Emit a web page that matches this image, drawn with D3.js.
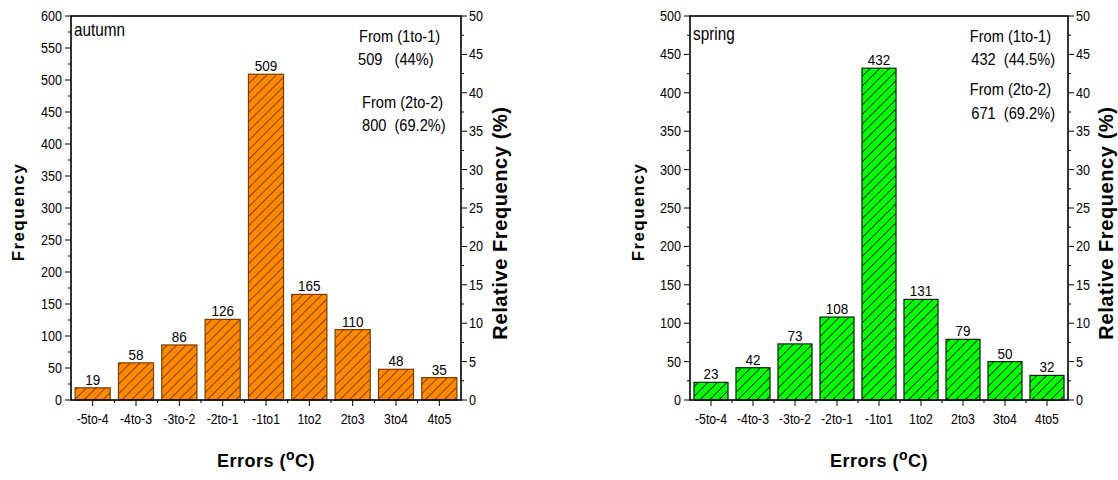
<!DOCTYPE html>
<meta charset="utf-8">
<style>
body {
  background: #fff;
  margin: 0;
  padding: 0;
}
text {
  fill: #000;
  font-family: "Liberation Sans", Arial, sans-serif;
  white-space: pre;
}
.tick-label {
  font-size: 14px;
}
.value-label {
  font-size: 15px;
}
.note {
  font-size: 17px;
}
.season {
  font-size: 18px;
}
.axis-title {
  font-size: 17px;
  font-weight: bold;
  letter-spacing: 1.4px;
}
.rel-title {
  font-size: 20px;
  font-weight: bold;
  letter-spacing: 0.6px;
}
.x-title {
  font-size: 18px;
  font-weight: bold;
  letter-spacing: 0.5px;
}
.frame {
  fill: none;
  stroke: #000;
  stroke-width: 1.6px;
}
.tick {
  stroke: #000;
  stroke-width: 1px;
}
</style>
<body>
<script src="https://cdn.jsdelivr.net/npm/d3@7"></script>
<script>
var categories = ["-5to-4", "-4to-3", "-3to-2", "-2to-1", "-1to1", "1to2", "2to3", "3to4", "4to5"];

var autumnValues = [19, 58, 86, 126, 509, 165, 110, 48, 35];
var springValues = [23, 42, 73, 108, 432, 131, 79, 50, 32];

var autumnFreqTicks = [0, 50, 100, 150, 200, 250, 300, 350, 400, 450, 500, 550, 600];
var springFreqTicks = [0, 50, 100, 150, 200, 250, 300, 350, 400, 450, 500];
var relTicks = [0, 5, 10, 15, 20, 25, 30, 35, 40, 45, 50];

var autumnNotes = ["From (1to-1)", "509   (44%)", "From (2to-2)", "800  (69.2%)"];
var springNotes = ["From (1to-1)", "432  (44.5%)", "From (2to-2)", "671  (69.2%)"];

var width = 1118,
    height = 480;

var svg = d3.select("body").append("svg")
    .attr("width", width)
    .attr("height", height);

var defs = svg.append("defs");

function addHatch(id, fill, lineWidth) {
  var p = defs.append("pattern")
      .attr("id", id)
      .attr("patternUnits", "userSpaceOnUse")
      .attr("width", 6.7)
      .attr("height", 6.7)
      .attr("patternTransform", "rotate(45)");
  p.append("rect")
      .attr("width", 6.7)
      .attr("height", 6.7)
      .attr("fill", fill);
  p.append("line")
      .attr("x1", 0).attr("y1", 0)
      .attr("x2", 0).attr("y2", 6.7)
      .attr("stroke", "#000")
      .attr("stroke-width", lineWidth);
}
addHatch("hatch-orange", "#ff8800", 1);
addHatch("hatch-green", "#00ff00", 1.6);

// the original uses a narrow face, squeeze Liberation Sans instead
function narrow(g, cls, x, y, txt, anchor, sx) {
  return g.append("text")
      .attr("class", cls)
      .attr("text-anchor", anchor || "start")
      .attr("transform", "translate(" + x + "," + y + ") scale(" + (sx || 0.88) + ",1)")
      .text(txt);
}

function drawPanel(opt) {
  var g = svg.append("g");

  var x = d3.scaleBand()
      .domain(categories)
      .range([opt.left, opt.right])
      .paddingInner(0.19)
      .paddingOuter(0.095);

  var y = d3.scaleLinear()
      .domain([0, opt.yMax])
      .range([opt.bottom, opt.top]);

  var y2 = d3.scaleLinear()
      .domain([0, 50])
      .range([opt.bottom, opt.top]);

  // bars
  g.selectAll(".bar")
      .data(opt.values)
      .enter().append("rect")
      .attr("class", "bar")
      .attr("x", function(d, i) { return x(categories[i]); })
      .attr("y", function(d) { return y(d); })
      .attr("width", x.bandwidth())
      .attr("height", function(d) { return y(0) - y(d); })
      .attr("fill", "url(#" + opt.hatch + ")")
      .attr("stroke", opt.edge)
      .attr("stroke-width", 1.2);

  opt.values.forEach(function(d, i) {
    narrow(g, "value-label", x(categories[i]) + x.bandwidth() / 2, y(d) - 3, d, "middle", 0.9);
  });

  // frame
  g.append("rect")
      .attr("class", "frame")
      .attr("x", opt.left)
      .attr("y", opt.top)
      .attr("width", opt.right - opt.left)
      .attr("height", opt.bottom - opt.top);

  // left axis
  var step = opt.freqTicks[1] - opt.freqTicks[0];
  opt.freqTicks.forEach(function(t) {
    g.append("line").attr("class", "tick")
        .attr("x1", opt.left - 6).attr("x2", opt.left)
        .attr("y1", y(t)).attr("y2", y(t));
    narrow(g, "tick-label", opt.left - 9, y(t) + 5, t, "end", 0.9);
    if (t < opt.yMax) {
      g.append("line").attr("class", "tick")
          .attr("x1", opt.left - 3).attr("x2", opt.left)
          .attr("y1", y(t + step / 2)).attr("y2", y(t + step / 2));
    }
  });

  // right axis
  relTicks.forEach(function(t) {
    g.append("line").attr("class", "tick")
        .attr("x1", opt.right).attr("x2", opt.right + 6)
        .attr("y1", y2(t)).attr("y2", y2(t));
    narrow(g, "tick-label", opt.right + 8, y2(t) + 5, t, "start", 0.9);
    if (t < 50) {
      g.append("line").attr("class", "tick")
          .attr("x1", opt.right).attr("x2", opt.right + 3)
          .attr("y1", y2(t + 2.5)).attr("y2", y2(t + 2.5));
    }
  });

  // bottom axis
  var stepX = x.step();
  categories.forEach(function(c, i) {
    var cx = x(c) + x.bandwidth() / 2;
    g.append("line").attr("class", "tick")
        .attr("x1", cx).attr("x2", cx)
        .attr("y1", opt.bottom).attr("y2", opt.bottom + 6);
    narrow(g, "tick-label", cx, opt.bottom + 24, c, "middle", 0.875);
    if (i > 0) {
      g.append("line").attr("class", "tick")
          .attr("x1", cx - stepX / 2).attr("x2", cx - stepX / 2)
          .attr("y1", opt.bottom).attr("y2", opt.bottom + 3);
    }
  });

  // season label
  narrow(g, "season", opt.left + 3, opt.seasonY, opt.season, "start", 0.85);

  // notes
  opt.notes.forEach(function(d, i) {
    narrow(g, "note", opt.noteX[i], opt.noteY[i], d, opt.noteAnchor, 0.86);
  });

  // titles
  g.append("text").attr("class", "axis-title")
      .attr("text-anchor", "middle")
      .attr("transform", "translate(" + opt.freqTitleX + ",212) rotate(-90)")
      .text("Frequency");
  g.append("text").attr("class", "rel-title")
      .attr("text-anchor", "middle")
      .attr("transform", "translate(" + opt.relTitleX + ",223) rotate(-90)")
      .text("Relative Frequency (%)");

  var xt = g.append("text").attr("class", "x-title")
      .attr("text-anchor", "middle")
      .attr("x", (opt.left + opt.right) / 2)
      .attr("y", 467);
  xt.append("tspan").text("Errors (");
  xt.append("tspan").attr("dy", -7).attr("font-size", "14px").text("o");
  xt.append("tspan").attr("dy", 7).text("C)");
}

drawPanel({
  left: 71, right: 461, top: 16, bottom: 400,
  yMax: 600,
  values: autumnValues,
  freqTicks: autumnFreqTicks,
  hatch: "hatch-orange",
  edge: "#7a3c00",
  season: "autumn",
  seasonY: 36,
  notes: autumnNotes,
  noteAnchor: "start",
  noteX: [359, 358, 362, 362],
  noteY: [42, 65, 108, 131],
  freqTitleX: 24,
  relTitleX: 507
});

drawPanel({
  left: 690, right: 1068, top: 16, bottom: 400,
  yMax: 500,
  values: springValues,
  freqTicks: springFreqTicks,
  hatch: "hatch-green",
  edge: "#002200",
  season: "spring",
  seasonY: 40,
  notes: springNotes,
  noteAnchor: "end",
  noteX: [1051, 1055, 1051, 1055],
  noteY: [42, 65, 95, 119],
  freqTitleX: 644,
  relTitleX: 1113
});
</script>
</body>
